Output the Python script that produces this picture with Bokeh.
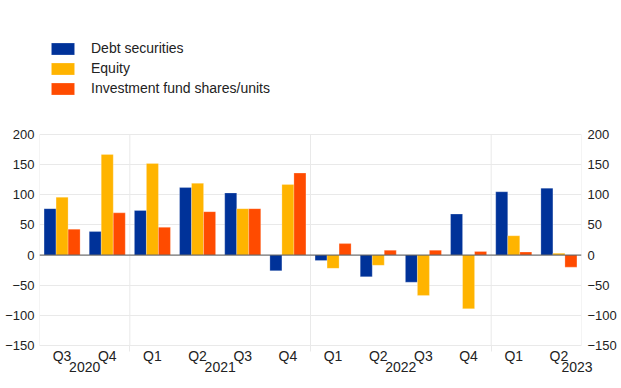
from bokeh.plotting import figure
from bokeh.models import (ColumnDataSource, FixedTicker, LinearAxis, Range1d,
                          Legend, LegendItem, Span)
from bokeh.transform import dodge
from bokeh.embed import file_html
from bokeh.resources import INLINE

quarters = ["Q3", "Q4", "Q1", "Q2", "Q3", "Q4", "Q1", "Q2", "Q3", "Q4", "Q1", "Q2"]
quarter_year = ["2020", "2020", "2021", "2021", "2021", "2021",
                "2022", "2022", "2022", "2022", "2023", "2023"]
years = ["2020", "2021", "2022", "2023"]
debt = [77, 39, 74, 112, 103, -26, -9, -36, -45, 68, 105, 111]
equity = [96, 167, 152, 119, 77, 117, -22, -17, -67, -89, 32, 3]
funds = [43, 70, 46, 72, 77, 136, 19, 8, 8, 6, 5, -20]
series_names = ["Debt securities", "Equity", "Investment fund shares/units"]
y_ticks = [-150, -100, -50, 0, 50, 100, 150, 200]

colors = ["#003299", "#FFB400", "#FF4B00"]
FONT = "Liberation Sans"
TXT = "#222222"
GRID = "#e9e9e9"
n = len(quarters)
xc = [i + 0.5 for i in range(n)]

# layout geometry (pixels)
AREA_H = 211          # height of the value area (-150..200)
TOP = 10
BOTTOM = 34
H = 379
W = 620
LEFT = 39
RIGHT = 39
FRAME_H = H - TOP - BOTTOM
y_lo, y_hi = y_ticks[0], y_ticks[-1]
y_end = y_lo + (y_hi - y_lo) * FRAME_H / AREA_H

src = ColumnDataSource(dict(x=xc, debt=debt, equity=equity, funds=funds))

p = figure(width=W, height=H, output_backend="svg",
           toolbar_location=None,
           x_range=Range1d(0, n), y_range=Range1d(y_lo, y_end),
           min_border_left=LEFT, min_border_right=RIGHT, min_border_top=TOP,
           min_border_bottom=BOTTOM)

# separators between years and frame sides (limited to value area)
seps = [0] + [i for i in range(1, n) if quarter_year[i] != quarter_year[i - 1]] + [n]
p.segment(x0=seps, x1=seps, y0=[y_lo] * len(seps), y1=[y_hi] * len(seps),
          line_color=GRID, line_width=1)

bw = 0.266
renderers = []
for k, (col, c) in enumerate(zip(["debt", "equity", "funds"], colors)):
    r = p.vbar(x=dodge("x", (k - 1) * bw, range=p.x_range), top=col, bottom=0,
               width=bw, source=src, fill_color=c, line_color="white",
               line_width=0.4, line_alpha=0.6)
    renderers.append(r)

bounds = seps[1:-1]

yt = FixedTicker(ticks=y_ticks)
p.yaxis.ticker = yt
right = LinearAxis(ticker=yt)
p.add_layout(right, "right")
for ax, sd in [(p.yaxis[0], 5), (right, 6)]:
    ax.axis_line_color = None
    ax.major_tick_line_color = None
    ax.minor_tick_line_color = None
    ax.major_tick_out = 0
    ax.major_tick_in = 0
    ax.minor_tick_out = 0
    ax.major_label_text_font = FONT
    ax.major_label_text_font_size = "13px"
    ax.major_label_text_color = TXT
    ax.major_label_standoff = sd

xa = p.xaxis[0]
xa.ticker = FixedTicker(ticks=xc, minor_ticks=bounds)
xa.major_label_overrides = {v: q for v, q in zip(xc, quarters)}
xa.axis_line_color = GRID
xa.major_tick_line_color = None
xa.major_tick_out = 0
xa.major_tick_in = 0
xa.minor_tick_line_color = GRID
xa.minor_tick_out = 6
xa.minor_tick_in = 0
xa.major_label_standoff = -4
xa.major_label_text_font = FONT
xa.major_label_text_font_size = "14px"
xa.major_label_text_color = TXT

ypos = []
for y in years:
    idx = [i for i, qy in enumerate(quarter_year) if qy == y]
    ypos.append((idx[0] + idx[-1] + 1) / 2 if y != years[-1] else float(n) - 0.1)
ya = LinearAxis(ticker=FixedTicker(ticks=ypos),
                major_label_overrides={v: y for v, y in zip(ypos, years)})
ya.axis_line_color = None
ya.major_tick_line_color = None
ya.minor_tick_line_color = None
ya.major_tick_out = 0
ya.major_tick_in = 0
ya.minor_tick_out = 0
ya.major_label_standoff = -5
ya.major_label_text_font = FONT
ya.major_label_text_font_size = "14px"
ya.major_label_text_color = TXT
p.add_layout(ya, "below")

p.ygrid.ticker = yt
p.ygrid.grid_line_color = GRID
p.xgrid.grid_line_color = None
p.outline_line_color = None

p.add_layout(Span(location=0, dimension="width", line_color="#555555", line_width=1))

LEG_TOP = 33   # legend top below frame top (px)
leg_h = 3 * 15 + 2 * 4
legend = Legend(items=[LegendItem(label=nm, renderers=[r]) for nm, r in zip(series_names, renderers)],
                location=(9, FRAME_H - LEG_TOP - leg_h), orientation="vertical",
                glyph_width=29, glyph_height=15, label_height=15,
                spacing=4, padding=0, margin=0, label_standoff=14,
                label_text_font=FONT, label_text_font_size="14px",
                label_text_color=TXT, border_line_color=None,
                background_fill_alpha=0)
p.add_layout(legend, "center")

open("out.html", "w").write(file_html(p, INLINE))
